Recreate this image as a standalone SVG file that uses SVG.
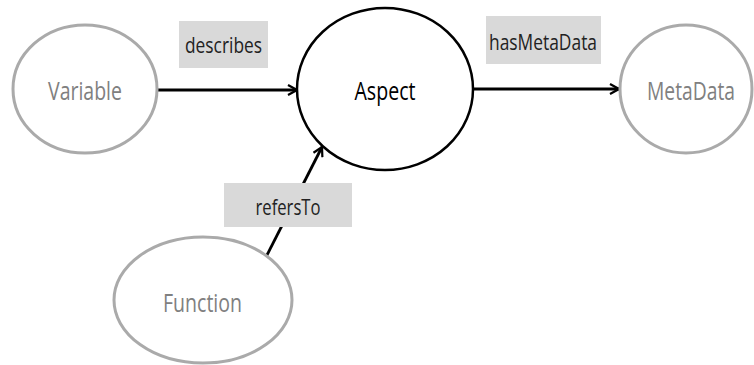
<svg xmlns="http://www.w3.org/2000/svg" width="754" height="365" viewBox="0 0 754 365">
<style>
.g{fill:#fff;stroke:#aaaaaa;stroke-width:3}
.b{fill:#fff;stroke:#000;stroke-width:2.5}
.t{font-family:"Open Sans","Liberation Sans",sans-serif;font-size:25px;text-anchor:middle}
.gt{fill:#808080}
.bt{fill:#000}
.lb{fill:#d9d9d9}
.lt{fill:#222;font-size:22px}
.c{stroke:#000;stroke-width:2.8;fill:none;marker-end:url(#ah)}
</style>
<defs>
<marker id="ah" viewBox="0 0 12 12" refX="10" refY="6" markerWidth="12" markerHeight="12" markerUnits="userSpaceOnUse" orient="auto">
<path d="M1,1 L10,6 L1,11" fill="none" stroke="#000" stroke-width="2.2"/>
</marker>
</defs>
<g id="connectors">
<line class="c" x1="157" y1="90" x2="297" y2="90"/>
<line class="c" x1="473" y1="89" x2="619" y2="89"/>
<line class="c" x1="266" y1="257" x2="322" y2="147"/>
<g id="label-describes"><rect class="lb" x="179" y="21" width="89" height="47"/><text class="t lt" x="223.5" y="53" textLength="77" lengthAdjust="spacingAndGlyphs">describes</text></g>
<g id="label-hasMetaData"><rect class="lb" x="486" y="16" width="115" height="48"/><text class="t lt" x="543" y="50" textLength="108" lengthAdjust="spacingAndGlyphs">hasMetaData</text></g>
<g id="label-refersTo"><rect class="lb" x="224" y="183" width="128" height="44"/><text class="t lt" x="288" y="215" textLength="65" lengthAdjust="spacingAndGlyphs">refersTo</text></g>
</g>
<g id="node-variable"><ellipse class="g" cx="85" cy="89" rx="72" ry="64"/><text class="t gt" x="85" y="100" textLength="74" lengthAdjust="spacingAndGlyphs">Variable</text></g>
<g id="node-aspect"><ellipse class="b" cx="385" cy="89" rx="88" ry="81"/><text class="t bt" x="385" y="100" textLength="61" lengthAdjust="spacingAndGlyphs">Aspect</text></g>
<g id="node-metadata"><ellipse class="g" cx="686" cy="89" rx="66" ry="64"/><text class="t gt" x="691" y="100" textLength="88" lengthAdjust="spacingAndGlyphs">MetaData</text></g>
<g id="node-function"><ellipse class="g" cx="203" cy="300" rx="89" ry="63"/><text class="t gt" x="202.5" y="312" textLength="79" lengthAdjust="spacingAndGlyphs">Function</text></g>
</svg>
